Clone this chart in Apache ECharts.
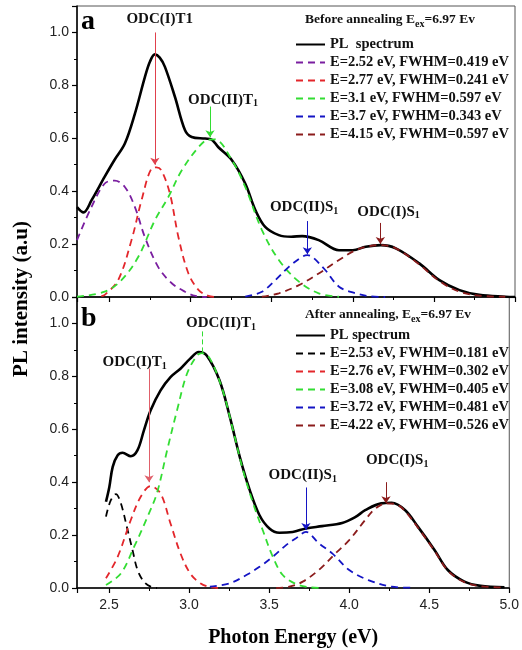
<!DOCTYPE html>
<html>
<head>
<meta charset="utf-8">
<script src="https://cdn.jsdelivr.net/npm/echarts@6.0.0/dist/echarts.min.js"></script>
<style>
html, body { margin: 0; padding: 0; background: #fff; }
#chart { width: 522px; height: 650px; }
</style>
</head>
<body>
<div id="chart"></div>
<script>
const serif = '"Liberation Serif", "Times New Roman", serif';
const sans = '"Liberation Sans", Arial, sans-serif';

// panel a: before annealing
const namesA = ['PL  spectrum', 'E=2.52 eV, FWHM=0.419 eV', 'E=2.77 eV, FWHM=0.241 eV',
    'E=3.1 eV, FWHM=0.597 eV', 'E=3.7 eV, FWHM=0.343 eV', 'E=4.15 eV, FWHM=0.597 eV'];
const colorsA = ['#000000', '#7a1ea0', '#e3262b', '#33dd33', '#1414c4', '#8b1c1c'];

const plA = [[2.30, 0.34], [2.34, 0.32], [2.39, 0.366], [2.47, 0.454], [2.53, 0.517], [2.595, 0.58],
    [2.657, 0.693], [2.718, 0.83], [2.75, 0.89], [2.78, 0.917], [2.81, 0.905], [2.842, 0.87], [2.904, 0.756],
    [2.966, 0.63], [3.007, 0.605], [3.09, 0.599], [3.13, 0.595], [3.17, 0.567], [3.255, 0.517],
    [3.337, 0.429], [3.40, 0.328], [3.46, 0.265], [3.544, 0.234], [3.62, 0.228], [3.688, 0.23],
    [3.79, 0.215], [3.915, 0.177], [4.0, 0.177], [4.08, 0.19], [4.173, 0.196], [4.265, 0.184],
    [4.41, 0.127], [4.534, 0.064], [4.658, 0.026], [4.78, 0.008], [4.94, 0.001], [5.0, 0.0]];
const pA1 = [[2.30, 0.215], [2.389, 0.34], [2.471, 0.429], [2.533, 0.44], [2.595, 0.416], [2.657, 0.34],
    [2.718, 0.227], [2.80, 0.114], [2.884, 0.052], [2.966, 0.02], [3.03, 0.004], [3.1, 0.0]];
const pA2 = [[2.45, 0.003], [2.471, 0.008], [2.554, 0.064], [2.636, 0.215], [2.698, 0.366], [2.76, 0.486],
    [2.79, 0.49], [2.82, 0.479], [2.873, 0.39], [2.925, 0.227], [2.987, 0.089], [3.05, 0.026],
    [3.11, 0.004], [3.15, 0.0]];
const pA3 = [[2.30, 0.001], [2.471, 0.02], [2.574, 0.064], [2.678, 0.152], [2.78, 0.29], [2.863, 0.378],
    [2.946, 0.479], [3.05, 0.567], [3.11, 0.595], [3.15, 0.596], [3.255, 0.517], [3.337, 0.416],
    [3.44, 0.253], [3.544, 0.14], [3.668, 0.058], [3.79, 0.014], [3.915, 0.001]];
const pA4 = [[3.337, 0.001], [3.44, 0.02], [3.523, 0.064], [3.606, 0.114], [3.688, 0.152], [3.72, 0.158],
    [3.75, 0.152], [3.83, 0.102], [3.915, 0.039], [4.018, 0.014], [4.1, 0.003], [4.2, 0.0]];
const pA5 = [[3.44, 0.001], [3.544, 0.014], [3.668, 0.045], [3.79, 0.089], [3.915, 0.14], [4.018, 0.177],
    [4.1, 0.192], [4.17, 0.196], [4.265, 0.184], [4.41, 0.123], [4.534, 0.06], [4.658, 0.02],
    [4.78, 0.005], [4.94, 0.001]];

// panel b: after annealing
const namesB = ['PL spectrum', 'E=2.53 eV, FWHM=0.181 eV', 'E=2.76 eV, FWHM=0.302 eV',
    'E=3.08 eV, FWHM=0.405 eV', 'E=3.72 eV, FWHM=0.481 eV', 'E=4.22 eV, FWHM=0.526 eV'];
const colorsB = ['#000000', '#000000', '#e3262b', '#33dd33', '#1414c4', '#8b1c1c'];

const plB = [[2.481, 0.326], [2.502, 0.382], [2.523, 0.458], [2.554, 0.502], [2.585, 0.511], [2.636, 0.498],
    [2.678, 0.521], [2.718, 0.596], [2.76, 0.672], [2.822, 0.747], [2.884, 0.797], [2.946, 0.829],
    [3.007, 0.867], [3.06, 0.892], [3.11, 0.879], [3.19, 0.785], [3.255, 0.646], [3.317, 0.495],
    [3.379, 0.37], [3.44, 0.275], [3.502, 0.225], [3.564, 0.209], [3.647, 0.212], [3.73, 0.225],
    [3.83, 0.234], [3.956, 0.246], [4.04, 0.269], [4.1, 0.294], [4.2, 0.32], [4.265, 0.322],
    [4.35, 0.294], [4.43, 0.231], [4.534, 0.143], [4.616, 0.068], [4.72, 0.024], [4.82, 0.008], [4.97, 0.003]];
const pB1 = [[2.481, 0.27], [2.51, 0.33], [2.543, 0.355], [2.574, 0.32], [2.616, 0.219], [2.647, 0.143],
    [2.678, 0.068], [2.718, 0.024], [2.76, 0.005], [2.8, 0.0]];
const pB2 = [[2.481, 0.037], [2.554, 0.118], [2.636, 0.257], [2.698, 0.345], [2.76, 0.385], [2.822, 0.357],
    [2.884, 0.244], [2.946, 0.131], [3.007, 0.055], [3.07, 0.018], [3.13, 0.003], [3.18, 0.0]];
const pB3 = [[2.481, 0.011], [2.574, 0.055], [2.657, 0.156], [2.74, 0.269], [2.8, 0.36], [2.863, 0.521],
    [2.925, 0.672], [2.987, 0.81], [3.05, 0.879], [3.08, 0.888], [3.13, 0.867], [3.21, 0.747],
    [3.275, 0.596], [3.337, 0.445], [3.40, 0.32], [3.46, 0.219], [3.523, 0.118], [3.585, 0.049],
    [3.668, 0.015], [3.75, 0.003], [3.82, 0.0]];
const pB4 = [[3.13, 0.005], [3.255, 0.018], [3.358, 0.049], [3.44, 0.08], [3.523, 0.118], [3.606, 0.162],
    [3.668, 0.188], [3.73, 0.212], [3.81, 0.169], [3.894, 0.131], [4.0, 0.068], [4.12, 0.03],
    [4.265, 0.005], [4.4, 0.001]];
const pB5 = [[3.544, 0.0], [3.626, 0.005], [3.71, 0.024], [3.81, 0.068], [3.915, 0.131], [4.0, 0.181],
    [4.1, 0.257], [4.163, 0.3], [4.235, 0.32], [4.3, 0.315], [4.35, 0.29], [4.43, 0.228], [4.534, 0.14],
    [4.616, 0.066], [4.72, 0.022], [4.82, 0.007], [4.97, 0.002]];

// peak labels [x, y, text] and arrows [x, yFrom, yTo, color, arrow]
const labelsA = [[2.81, 1.05, 'ODC(I)T1'], [3.2, 0.745, 'ODC(II)T{s|1}'],
    [3.7, 0.338, 'ODC(II)S{s|1}'], [4.22, 0.322, 'ODC(I)S{s|1}']];
const arrowsA = [[2.78, 1.0, 0.5, '#e0404c', true], [3.12, 0.72, 0.604, '#33dd33', true],
    [3.72, 0.287, 0.162, '#1414c4', true], [4.17, 0.28, 0.2, '#8b1c1c', true]];
const labelsB = [[3.2, 1.0, 'ODC(II)T{s|1}'], [2.66, 0.853, 'ODC(I)T{s|1}'],
    [3.71, 0.426, 'ODC(II)S{s|1}'], [4.3, 0.483, 'ODC(I)S{s|1}']];
const arrowsB = [[3.08, 0.97, 0.89, '#33dd33', false], [2.75, 0.83, 0.40, '#e0606a', true],
    [3.73, 0.38, 0.219, '#1414c4', true], [4.23, 0.40, 0.32, '#8b1c1c', true]];

const xAxisOf = (i, showLabel) => ({
    type: 'value',
    gridIndex: i,
    min: 2.3,
    max: 5.0,
    splitNumber: 5,
    axisLine: { onZero: false, lineStyle: { color: '#000', width: 1.5 } },
    axisTick: { length: 5, lineStyle: { color: '#000', width: 1.2 } },
    minorTick: { show: true, splitNumber: 2, length: 3, lineStyle: { color: '#000', width: 1 } },
    splitLine: { show: false },
    axisLabel: {
        show: showLabel, showMinLabel: false, margin: 10,
        fontFamily: sans, fontSize: 14, color: '#222',
        formatter: v => v.toFixed(1)
    },
    name: showLabel ? 'Photon Energy (eV)' : '',
    nameLocation: 'middle',
    nameGap: 40,
    nameTextStyle: { fontFamily: serif, fontWeight: 'bold', fontSize: 20, color: '#000' }
});

const yAxisOf = (i) => ({
    type: 'value',
    gridIndex: i,
    min: 0,
    max: 1.1,
    interval: 0.2,
    axisLine: { show: true, lineStyle: { color: '#000', width: 1.5 } },
    axisTick: { length: 5, lineStyle: { color: '#000', width: 1.2 } },
    minorTick: { show: true, splitNumber: 2, length: 3, lineStyle: { color: '#000', width: 1 } },
    splitLine: { show: false },
    axisLabel: {
        showMaxLabel: false, margin: 8,
        fontFamily: sans, fontSize: 14, color: '#222',
        formatter: v => v.toFixed(1)
    }
});

const lineOf = (name, data, color, dashed, i) => ({
    name,
    type: 'line',
    xAxisIndex: i,
    yAxisIndex: i,
    data,
    symbol: 'none',
    smooth: 0.35,
    lineStyle: { color, width: dashed ? 1.8 : 2.6, type: dashed ? [7, 5] : 'solid' },
    itemStyle: { color },
    z: dashed ? 3 : 2
});

const subRich = {
    s: { fontFamily: serif, fontWeight: 'bold', fontSize: 10, padding: [8, 0, 0, 0] }
};

const markerOf = (labels, arrows, i) => ({
    type: 'line',
    xAxisIndex: i,
    yAxisIndex: i,
    data: [],
    markLine: {
        silent: true,
        animation: false,
        symbolSize: 7,
        label: { show: false },
        data: arrows.map(a => [
            { coord: [a[0], a[1]], symbol: 'none', lineStyle: { color: a[3], width: 1, type: a[4] ? 'solid' : [5, 3] } },
            { coord: [a[0], a[2]], symbol: a[4] ? 'arrow' : 'none' }
        ])
    },
    markPoint: {
        silent: true,
        animation: false,
        symbol: 'rect',
        symbolSize: 1,
        itemStyle: { color: 'rgba(0,0,0,0)' },
        label: {
            show: true, position: 'inside',
            fontFamily: serif, fontWeight: 'bold', fontSize: 15, color: '#111',
            formatter: p => p.name,
            rich: subRich
        },
        data: labels.map(l => ({ coord: [l[0], l[1]], name: l[2] }))
    }
});

const legendOf = (names, top) => ({
    orient: 'vertical',
    left: 290,
    top,
    itemWidth: 29,
    itemHeight: 14,
    itemGap: 3,
    data: names,
    selectedMode: false,
    itemStyle: { opacity: 0 },
    textStyle: { fontFamily: serif, fontWeight: 'bold', fontSize: 14.5, color: '#111', lineHeight: 14 }
});

const seriesA = [plA, pA1, pA2, pA3, pA4, pA5].map((d, k) => lineOf(namesA[k], d, colorsA[k], k > 0, 0));
const seriesB = [plB, pB1, pB2, pB3, pB4, pB5].map((d, k) => lineOf(namesB[k], d, colorsB[k], k > 0, 1));

const option = {
    animation: false,
    backgroundColor: '#fff',
    title: [
        {
            text: 'Before annealing E{s|ex}=6.97 Ev', left: 300, top: 6,
            textStyle: { fontFamily: serif, fontWeight: 'bold', fontSize: 13.5, color: '#111', rich: subRich }
        },
        {
            text: 'After annealing, E{s|ex}=6.97 Ev', left: 300, top: 301,
            textStyle: { fontFamily: serif, fontWeight: 'bold', fontSize: 13.5, color: '#111', rich: subRich }
        }
    ],
    legend: [legendOf(namesA, 32), legendOf(namesB, 323)],
    grid: [
        { left: 77, right: 7, top: 6, height: 291, show: true, borderColor: '#555', borderWidth: 1 },
        { left: 77, right: 7, top: 297, height: 291, show: true, borderColor: '#555', borderWidth: 1 }
    ],
    xAxis: [xAxisOf(0, false), xAxisOf(1, true)],
    yAxis: [yAxisOf(0), yAxisOf(1)],
    graphic: [
        {
            type: 'text', left: 81, top: 8,
            style: { text: 'a', fontFamily: serif, fontWeight: 'bold', fontSize: 28, fill: '#000' }
        },
        {
            type: 'text', left: 81, top: 305,
            style: { text: 'b', fontFamily: serif, fontWeight: 'bold', fontSize: 28, fill: '#000' }
        },
        {
            type: 'text', x: 22, y: 299, rotation: Math.PI / 2,
            style: {
                text: 'PL intensity (a.u)', fontFamily: serif, fontWeight: 'bold', fontSize: 21,
                fill: '#000', align: 'center', verticalAlign: 'middle'
            }
        }
    ],
    series: [...seriesA, markerOf(labelsA, arrowsA, 0), ...seriesB, markerOf(labelsB, arrowsB, 1)]
};

const chart = echarts.init(document.getElementById('chart'));
chart.setOption(option);
window.addEventListener('resize', () => {
    chart.resize();
});
</script>
</body>
</html>
